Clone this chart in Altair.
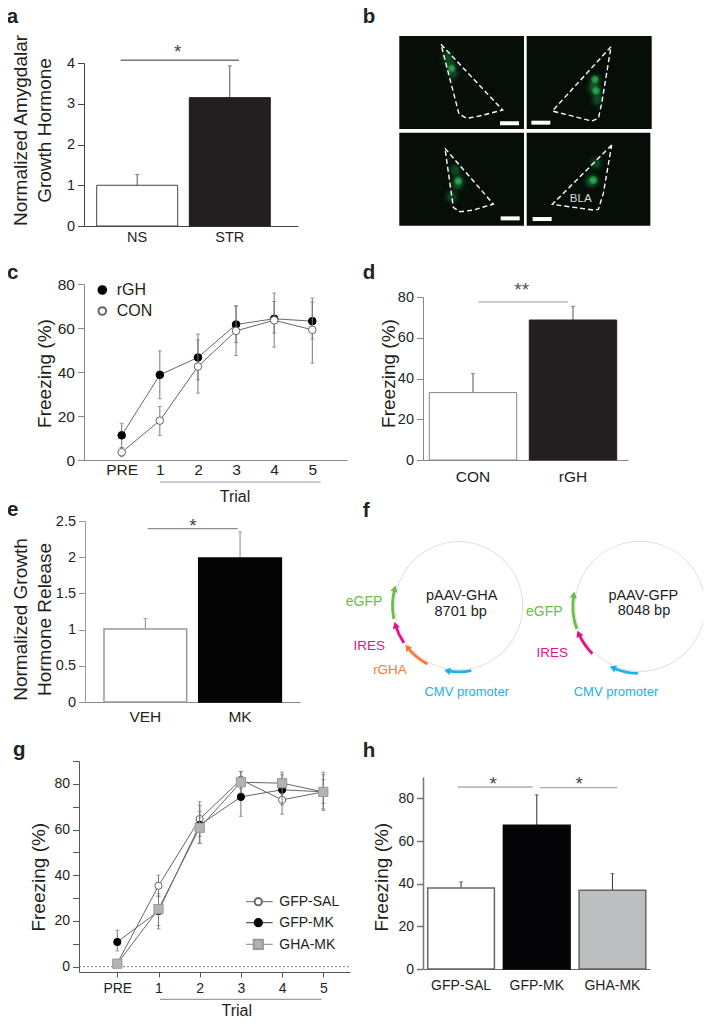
import math
import altair as alt
import pandas as pd

FONT = "Liberation Sans"
W, H = 695, 1014
INK = "#231f20"

# ---------- data ----------
a_cats = ["NS", "STR"]; a_vals = [1.0, 3.15]; a_tops = [1.265, 3.93]; a_sig = 4.07
d_cats = ["CON", "rGH"]; d_vals = [33.1, 68.7]; d_tops = [42.4, 75.4]; d_sig = 77.6
e_cats = ["VEH", "MK"]; e_vals = [1.01, 1.99]; e_tops = [1.153, 2.35]; e_sig = 2.394
h_cats = ["GFP-SAL", "GFP-MK", "GHA-MK"]; h_vals = [38.0, 67.4, 36.9]; h_tops = [40.8, 81.6, 44.7]; h_sig = [85.3, 85.0]

trials = ["PRE", "1", "2", "3", "4", "5"]
c_rgh = [11.2, 38.7, 46.6, 61.6, 64.2, 63.1]
c_rgh_hi = [16.7, 49.6, 57.2, 69.9, 72.1, 71.8]
c_rgh_lo = [5.7, 27.8, 36.4, 53.4, 57.7, 55.0]
c_con = [3.5, 17.9, 42.5, 58.7, 63.5, 59.2]
c_con_hi = [5.6, 24.3, 54.6, 70.1, 75.9, 73.6]
c_con_lo = [1.5, 11.2, 30.4, 47.4, 51.3, 44.0]

g_sal = [1.5, 35.4, 64.6, 81.8, 73.0, 76.5]
g_sal_hi = [2.5, 40.0, 72.2, 85.4, 79.5, 84.0]
g_sal_lo = [0.5, 30.6, 57.0, 78.0, 66.7, 69.0]
g_mk = [10.8, 24.3, 62.0, 74.3, 77.4, 76.5]
g_mk_hi = [15.9, 32.0, 70.5, 82.5, 84.0, 81.8]
g_mk_lo = [6.9, 16.5, 54.0, 65.8, 70.8, 71.5]
g_gha = [1.3, 25.2, 60.8, 80.7, 80.3, 76.5]
g_gha_hi = [2.2, 31.0, 68.0, 85.4, 85.1, 85.1]
g_gha_lo = [0.4, 18.0, 54.0, 76.0, 75.5, 68.4]

# panel b: crop units of the micrograph block
photo_x1 = [118, 500, 118, 500]; photo_x2 = [492, 875, 492, 871]
photo_y1 = [108, 108, 398, 398]; photo_y2 = [387, 387, 677, 677]
outline_x = [[243, 428, 350, 320, 297, 243], [753, 577, 695, 715, 725, 753],
             [255, 400, 340, 300, 280, 255], [755, 577, 700, 715, 730, 755]]
outline_y = [[133, 330, 350, 355, 342, 133], [140, 333, 363, 355, 310, 140],
             [445, 612, 630, 635, 622, 445], [435, 613, 630, 628, 580, 435]]
glow_x = [262, 272, 278, 705, 700, 710, 712, 295, 285, 292, 275, 700, 708, 692]
glow_y = [170, 195, 220, 240, 262, 275, 300, 540, 510, 555, 590, 540, 490, 545]
core_x = [275, 705, 708, 295, 700]
core_y = [205, 238, 272, 543, 540]
scalebar_x1 = [420, 514, 422, 518]; scalebar_x2 = [477, 571, 479, 575]
scalebar_y1 = [364, 362, 649, 651]; scalebar_y2 = [376, 374, 661, 663]

# panel f: plasmid maps, degrees clockwise from top
plasmid_cx = [118.7, 300.0]; plasmid_cy = [105.7, 106.3]; plasmid_r = [64, 65]
f_names = ["eGFP", "IRES", "rGHA", "CMV", "eGFP", "IRES", "CMV"]
f_map = [0, 0, 0, 0, 1, 1, 1]
f_start = [258.5, 235.8, 208.1, 169.0, 250.3, 225.2, 181.8]
f_end = [285.0, 253.0, 231.0, 190.0, 280.0, 246.0, 204.0]
f_colors = {"eGFP": "#6abd45", "IRES": "#e6118a", "rGHA": "#f47b30", "CMV": "#1cb0ec"}

# ---------- helpers ----------
def X(p): return p - 8
def Y(p): return p - 8

ONE = pd.DataFrame({"_": [0]})

def label(text, x, y, size=14, color=INK, weight="normal", align="center", baseline="middle"):
    return alt.Chart(ONE).mark_text(font=FONT, fontSize=size, color=color, fontWeight=weight,
                                    align=align, baseline=baseline).encode(
        x=alt.value(X(x)), y=alt.value(Y(y)), text=alt.value(text))

def hline(x1, x2, y, color="#666", width=1, dash=None):
    kw = {"strokeDash": dash} if dash else {}
    return alt.Chart(ONE).mark_rule(color=color, strokeWidth=width, **kw).encode(
        x=alt.value(X(x1)), x2=alt.value(X(x2)), y=alt.value(Y(y)))

def y_axis(xpx, values, title, tx, ty, color, lsize=14, tsize=19, width=1, line=24, expr=None, fmt=None, tick=6.5, pad=3):
    kw = {}
    if expr: kw["labelExpr"] = expr
    if fmt: kw["format"] = fmt
    return alt.Axis(orient="left", offset=-X(xpx), values=values, title=title, titleX=tx - xpx, titleY=Y(ty),
                    titleFontSize=tsize, titleBaseline="middle", titleAlign="center", titleLineHeight=line,
                    titleColor=INK, titleFont=FONT, titleFontWeight="normal",
                    labelFontSize=lsize, labelColor=INK, labelFont=FONT, labelPadding=pad,
                    domainColor=color, tickColor=color, domainWidth=width, tickWidth=width, tickSize=tick, grid=False, **kw)

def x_axis(ybase, color, lsize=14, pad=4, tick=0, width=1):
    return alt.Axis(orient="bottom", offset=Y(ybase) - H, title=None, labelAngle=0, labelFontSize=lsize,
                    labelColor=INK, labelFont=FONT, labelPadding=pad, domainColor=color, tickColor=color,
                    domainWidth=width, tickWidth=width, tickSize=tick, ticks=tick > 0, grid=False)

def band_scale(cats, x0, x1, left, bw, step):
    n = len(cats)
    R = x1 - x0
    outer = R - (n * step - (step - bw))
    return alt.Scale(type="band", domain=cats, range=[X(x0), X(x1)], paddingInner=1 - bw / step,
                     paddingOuter=outer / 2 / step, align=(left - x0) / outer)

def point_scale(cats, x0, x1, first, step):
    R = x1 - x0
    n = len(cats)
    pad = (R / step - (n - 1)) / 2
    return alt.Scale(type="point", domain=cats, range=[X(x0), X(x1)], padding=pad,
                     align=(first - x0) / (R - step * (n - 1)))

def axes_only(cats, vals, xs, ys, xaxis, yaxis):
    df = pd.DataFrame({"cat": cats, "val": vals})
    return alt.Chart(df).mark_point(opacity=0).encode(
        x=alt.X("cat:N", scale=xs, axis=xaxis, title=None),
        y=alt.Y("val:Q", scale=ys, axis=yaxis, title=None))

def bar_panel(cats, vals, tops, fills, strokes, xs, ys, sw=1, ecolor="#555", sigs=()):
    df = pd.DataFrame({"cat": cats, "val": vals, "top": tops})
    ex = alt.X("cat:N", scale=xs, axis=None, title=None)
    q = lambda f: alt.Y(f + ":Q", scale=ys, axis=None, title=None)
    layers = []
    for i, c in enumerate(cats):
        sub = alt.Chart(df[df.cat == c])
        layers.append(sub.mark_rule(color=ecolor, strokeWidth=1).encode(x=ex, y=q("val"), y2="top:Q"))
        layers.append(sub.mark_tick(color=ecolor, orient="horizontal", size=4, thickness=1).encode(x=ex, y=q("top")))
        layers.append(sub.mark_bar(fill=fills[i], stroke=strokes[i], strokeWidth=sw).encode(x=ex, y=q("val")))
    for (x1, x2, v, col, w) in sigs:
        sd = pd.DataFrame({"v": [v]})
        layers.append(alt.Chart(sd).mark_rule(color=col, strokeWidth=w).encode(
            x=alt.value(X(x1)), x2=alt.value(X(x2)), y=q("v")))
    return alt.layer(*layers)

def series_layers(vals, hi, lo, xs, ys, fill, stroke, shape, size, ecolor="#777"):
    df = pd.DataFrame({"t": trials, "v": vals, "hi": hi, "lo": lo})
    ex = alt.X("t:N", scale=xs, axis=None, title=None)
    q = lambda f: alt.Y(f + ":Q", scale=ys, axis=None, title=None)
    base = alt.Chart(df)
    return [base.mark_rule(color=ecolor, strokeWidth=1).encode(x=ex, y=q("lo"), y2="hi:Q"),
            base.mark_tick(color=ecolor, orient="horizontal", size=4, thickness=1).encode(x=ex, y=q("hi")),
            base.mark_tick(color=ecolor, orient="horizontal", size=4, thickness=1).encode(x=ex, y=q("lo")),
            base.mark_line(color="#666", strokeWidth=1).encode(x=ex, y=q("v")),
            base.mark_point(shape=shape, size=size, filled=True, fill=fill, stroke=stroke, strokeWidth=1, opacity=1).encode(x=ex, y=q("v"))]

# ---------- panel a ----------
ax_s = band_scale(a_cats, 84, 298, 96.7, 81, 92.6)
ay_s = alt.Scale(domain=[0, 4], range=[Y(226), Y(63)], nice=False)
aa = axes_only(a_cats, a_vals, ax_s, ay_s, x_axis(226, "#444", lsize=14.5),
               y_axis(84, [0, 1, 2, 3, 4], ["Normalized Amygdalar", "Growth Hormone"], 20, 130, "#444", lsize=14.5))
pa = bar_panel(a_cats, a_vals, a_tops, ["white", INK], ["#444", INK], ax_s, ay_s,
               sigs=[(120.7, 239, a_sig, "#333", 1)])

# ---------- panel d ----------
dx_s = band_scale(d_cats, 423, 628, 429.3, 87.4, 100)
dy_s = alt.Scale(domain=[0, 80], range=[Y(460), Y(297)], nice=False)
ad = axes_only(d_cats, d_vals, dx_s, dy_s, x_axis(460, "#888", lsize=15.5, pad=9),
               y_axis(423, [0, 20, 40, 60, 80], "Freezing (%)", 388, 373, "#888", lsize=14.5))
pd_ = bar_panel(d_cats, d_vals, d_tops, ["white", INK], ["#888", INK], dx_s, dy_s,
                sigs=[(478.3, 568.3, d_sig, "#bbb", 1.5)])

# ---------- panel e ----------
ex_s = band_scale(e_cats, 85, 300, 104, 82.7, 94.7)
ey_s = alt.Scale(domain=[0, 2.5], range=[Y(702), Y(521)], nice=False)
ae = axes_only(e_cats, e_vals, ex_s, ey_s, x_axis(702, "#888", lsize=15.5, pad=7),
               y_axis(85, [0, 0.5, 1, 1.5, 2, 2.5], ["Normalized Growth", "Hormone Release"], 20.5, 619, "#999",
                      lsize=14.5, fmt="~g"))
pe = bar_panel(e_cats, e_vals, e_tops, ["white", "#050505"], ["#999", "#050505"], ex_s, ey_s, sw=1.5,
               ecolor="#888", sigs=[(147.7, 237.7, e_sig, "#777", 1)])

# ---------- panel h ----------
hx_s = band_scale(h_cats, 423, 650, 427.7, 66.7, 75.7)
hy_s = alt.Scale(domain=[0, 90], range=[Y(969), Y(777)], nice=False)
ah = axes_only(h_cats, h_vals, hx_s, hy_s, x_axis(969, "#666", lsize=14, pad=9),
               y_axis(423, [0, 20, 40, 60, 80], "Freezing (%)", 381.7, 876.7, "#777", width=1.5, pad=3))
ph = bar_panel(h_cats, h_vals, h_tops, ["white", "#050507", "#bcbec0"], ["#666", "#050507", "#666"], hx_s, hy_s,
               sw=1.5, ecolor="#333",
               sigs=[(457.7, 532.7, h_sig[0], "#888", 1), (540, 617.3, h_sig[1], "#aaa", 1.2)])

# ---------- panel c ----------
cx = point_scale(trials, 84, 347, 121.7, 38.12)
cy = alt.Scale(domain=[0, 80], range=[Y(460), Y(284)], nice=False)
ac = axes_only(trials, c_rgh, cx, cy, x_axis(460, "#888", lsize=15.5, pad=2),
               y_axis(84, [0, 20, 40, 60, 80], "Freezing (%)", 44.3, 373, "#888", lsize=15.5))
pc = alt.layer(*series_layers(c_rgh, c_rgh_hi, c_rgh_lo, cx, cy, "#000", "#000", "circle", 58),
               *series_layers(c_con, c_con_hi, c_con_lo, cx, cy, "#fff", "#666", "circle", 58))

# ---------- panel g ----------
gx = point_scale(trials, 79, 350, 117.3, 41.2)
gy = alt.Scale(domain=[-2.34, 90], range=[Y(972), Y(761)], nice=False)
ag = axes_only(trials, g_mk, gx, gy, x_axis(972, "#555", lsize=14, pad=4, tick=5),
               y_axis(79, list(range(0, 100, 10)), "Freezing (%)", 38.3, 876.7, "#555", lsize=14,
                      expr="datum.value % 20 == 0 && datum.value < 90 ? datum.label : ''"))
g_zero = alt.Chart(pd.DataFrame({"z": [0]})).mark_rule(color="#666", strokeWidth=0.8, strokeDash=[2, 2]).encode(
    x=alt.value(X(79)), x2=alt.value(X(350)), y=alt.Y("z:Q", scale=gy, axis=None, title=None))
pg = alt.layer(g_zero,
               *series_layers(g_sal, g_sal_hi, g_sal_lo, gx, gy, "#fff", "#666", "circle", 52),
               *series_layers(g_mk, g_mk_hi, g_mk_lo, gx, gy, "#000", "#000", "circle", 52),
               *series_layers(g_gha, g_gha_hi, g_gha_lo, gx, gy, "#b3b3b3", "#999", "square", 85))

# ---------- panel b ----------
bx = alt.Scale(domain=[118, 875], range=[X(399.3), X(651.7)], nice=False, zero=False)
by = alt.Scale(domain=[108, 677], range=[Y(36), Y(225.7)], nice=False, zero=False)
bX = lambda f: alt.X(f, scale=bx, axis=None, title=None)
bY = lambda f: alt.Y(f, scale=by, axis=None, title=None)
photos = pd.DataFrame({"x1": photo_x1, "x2": photo_x2, "y1": photo_y1, "y2": photo_y2})
outlines = pd.DataFrame([{"photo": p, "k": k, "x": x, "y": y}
                         for p, (xs, ys) in enumerate(zip(outline_x, outline_y))
                         for k, (x, y) in enumerate(zip(xs, ys))])
glows = pd.DataFrame({"x": glow_x, "y": glow_y})
cores = pd.DataFrame({"x": core_x, "y": core_y})
bars = pd.DataFrame({"x1": scalebar_x1, "x2": scalebar_x2, "y1": scalebar_y1, "y2": scalebar_y2})
pb = alt.layer(
    alt.Chart(photos).mark_rect(fill="#060e07").encode(x=bX("x1:Q"), x2="x2:Q", y=bY("y1:Q"), y2="y2:Q"),
    alt.Chart(glows).mark_circle(size=280, color="#1d7a3a", opacity=0.10).encode(x=bX("x:Q"), y=bY("y:Q")),
    alt.Chart(glows).mark_circle(size=150, color="#1f8a42", opacity=0.14).encode(x=bX("x:Q"), y=bY("y:Q")),
    alt.Chart(glows).mark_circle(size=60, color="#27a04d", opacity=0.24).encode(x=bX("x:Q"), y=bY("y:Q")),
    alt.Chart(cores).mark_circle(size=70, color="#2fbf5f", opacity=0.35).encode(x=bX("x:Q"), y=bY("y:Q")),
    alt.Chart(cores).mark_circle(size=25, color="#44dc78", opacity=0.4).encode(x=bX("x:Q"), y=bY("y:Q")),
    alt.Chart(outlines).mark_line(color="white", strokeWidth=1.4, strokeDash=[5, 3]).encode(
        x=bX("x:Q"), y=bY("y:Q"), detail="photo:N", order="k:Q"),
    alt.Chart(bars).mark_rect(fill="white").encode(x=bX("x1:Q"), x2="x2:Q", y=bY("y1:Q"), y2="y2:Q"),
)

# ---------- panel f ----------
fx = alt.Scale(domain=[0, 371], range=[X(340), X(711)], nice=False, zero=False)
fy = alt.Scale(domain=[0, 240], range=[Y(500), Y(740)], nice=False, zero=False)
fX = lambda f: alt.X(f, scale=fx, axis=None, title=None)
fY = lambda f: alt.Y(f, scale=fy, axis=None, title=None)
fT = alt.Scale(domain=[0, 360], range=[0, 2 * math.pi], nice=False, zero=False)
f_layers = []
for cx_, cy_, r_ in zip(plasmid_cx, plasmid_cy, plasmid_r):
    ring = pd.DataFrame({"x": [cx_], "y": [cy_], "a": [0], "b": [360]})
    f_layers.append(alt.Chart(ring).mark_arc(innerRadius=r_ - 0.4, outerRadius=r_ + 0.4, color="#d9d9d9").encode(
        x=fX("x:Q"), y=fY("y:Q"), theta=alt.Theta("a:Q", scale=fT), theta2="b:Q"))
for name, m, s, e in zip(f_names, f_map, f_start, f_end):
    cx_, cy_ = plasmid_cx[m], plasmid_cy[m]
    R = plasmid_r[m] + 2.2
    arc = pd.DataFrame({"x": [cx_], "y": [cy_], "a": [s], "b": [e]})
    f_layers.append(alt.Chart(arc).mark_arc(innerRadius=R - 1.4, outerRadius=R + 1.4, color=f_colors[name]).encode(
        x=fX("x:Q"), y=fY("y:Q"), theta=alt.Theta("a:Q", scale=fT), theta2="b:Q"))
    tip = pd.DataFrame({"x": [cx_ + R * math.sin(math.radians(e))],
                        "y": [cy_ - R * math.cos(math.radians(e))],
                        "rot": [e + 90]})
    f_layers.append(alt.Chart(tip).mark_point(shape="triangle-up", filled=True, size=55, color=f_colors[name], opacity=1).encode(
        x=fX("x:Q"), y=fY("y:Q"), angle=alt.Angle("rot:Q", scale=None)))
pf = alt.layer(*f_layers)

# ---------- text and annotations ----------
notes = [
    label("a", 6.7, 23, 20.5, "#222", "bold", "left", "alphabetic"),
    label("b", 362.7, 23, 20.5, "#222", "bold", "left", "alphabetic"),
    label("c", 7, 279.3, 20.5, "#222", "bold", "left", "alphabetic"),
    label("d", 362.7, 279, 20.5, "#222", "bold", "left", "alphabetic"),
    label("e", 7, 516, 20.5, "#222", "bold", "left", "alphabetic"),
    label("f", 362.7, 516.7, 20.5, "#222", "bold", "left", "alphabetic"),
    label("g", 13, 755.7, 20.5, "#222", "bold", "left", "alphabetic"),
    label("h", 362.7, 756.7, 20.5, "#222", "bold", "left", "alphabetic"),
    label("*", 177.7, 52, 19, "#444"),
    label("**", 521.7, 290, 19, "#555"),
    label("*", 193, 526, 19, "#444"),
    label("*", 493.3, 784, 19, "#444"),
    label("*", 579.3, 784, 19, "#444"),
    label("BLA", 580.7, 199.3, 11.5, "#d8d8d8"),
    hline(160, 320.7, 482, "#bbb", 1.5),
    label("Trial", 235, 496.7, 16),
    hline(160, 321.7, 999.3, "#888", 1),
    label("Trial", 236.7, 1011, 16),
    label("rGH", 116.7, 290, 16, align="left"),
    label("CON", 116.7, 311, 16, align="left"),
    alt.Chart(ONE).mark_point(shape="circle", size=58, filled=True, fill="#000", stroke="#000", opacity=1).encode(
        x=alt.value(X(102.3)), y=alt.value(Y(290))),
    alt.Chart(ONE).mark_point(shape="circle", size=58, filled=True, fill="#fff", stroke="#666", opacity=1).encode(
        x=alt.value(X(102.3)), y=alt.value(Y(311))),
    hline(246, 272.7, 901.7, "#666"), hline(246, 272.7, 922.7, "#333"), hline(246, 272.7, 944.3, "#888"),
    alt.Chart(ONE).mark_point(shape="circle", size=52, filled=True, fill="#fff", stroke="#666", opacity=1).encode(
        x=alt.value(X(258.3)), y=alt.value(Y(901.7))),
    alt.Chart(ONE).mark_point(shape="circle", size=52, filled=True, fill="#000", stroke="#000", opacity=1).encode(
        x=alt.value(X(258.3)), y=alt.value(Y(922.7))),
    alt.Chart(ONE).mark_point(shape="square", size=85, filled=True, fill="#b3b3b3", stroke="#999", opacity=1).encode(
        x=alt.value(X(258.3)), y=alt.value(Y(944.3))),
    label("GFP-SAL", 279.3, 902, 14, align="left"),
    label("GFP-MK", 279.3, 923, 14, align="left"),
    label("GHA-MK", 279.3, 944.5, 14, align="left"),
    label("pAAV-GHA", 461.7, 595.7, 14.5),
    label("8701 bp", 460.7, 611.7, 14.5),
    label("pAAV-GFP", 643.3, 595.7, 14.5),
    label("8048 bp", 644, 611, 14.5),
    label("eGFP", 364, 601.7, 14, f_colors["eGFP"]),
    label("IRES", 369.3, 646, 13.5, f_colors["IRES"]),
    label("rGHA", 390, 670, 13.5, f_colors["rGHA"]),
    label("CMV promoter", 466.7, 691.7, 13, f_colors["CMV"]),
    label("eGFP", 544.3, 612.3, 14, f_colors["eGFP"]),
    label("IRES", 552.3, 652.7, 13.5, f_colors["IRES"]),
    label("CMV promoter", 616, 691.7, 13, f_colors["CMV"]),
]

chart = (
    alt.layer(aa, ad, ae, ah, ac, ag, pa, pb, pc, pd_, pe, pf, pg, ph, *notes)
    .resolve_scale(x="independent", y="independent")
    .resolve_axis(x="independent", y="independent")
    .properties(width=W, height=H, padding=0, background="white",
                autosize=alt.AutoSizeParams(type="none", contains="padding"))
    .configure_view(stroke=None)
)
chart.save("out.html", embed_options={"renderer": "svg", "actions": False})
